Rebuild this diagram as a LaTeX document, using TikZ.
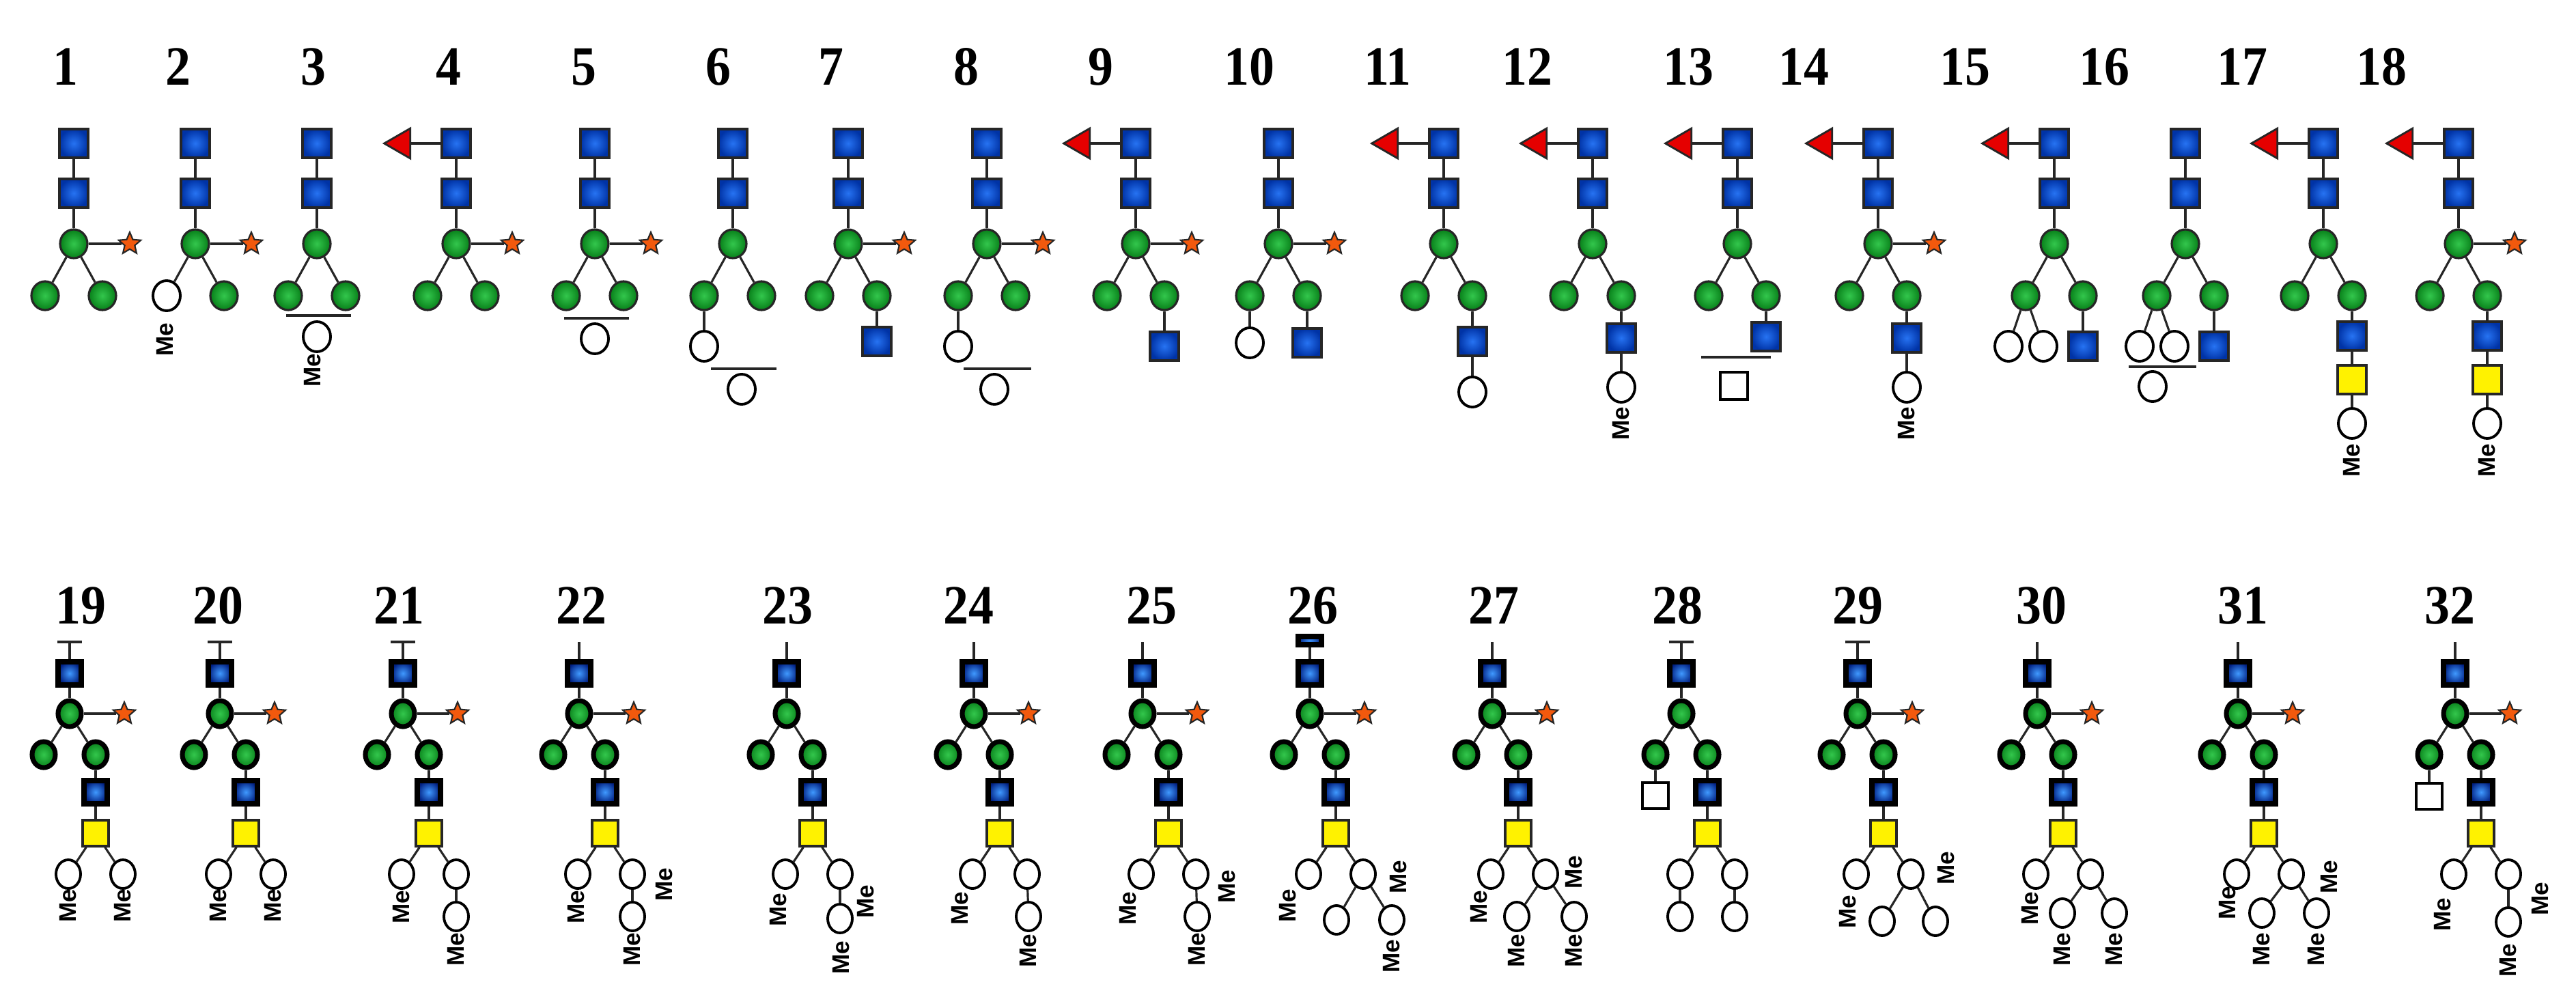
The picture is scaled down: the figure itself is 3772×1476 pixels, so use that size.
\documentclass[tikz,border=0pt]{standalone}
\usepackage{fontspec}
\usetikzlibrary{shapes.geometric}
\setmainfont{Liberation Serif}
\newfontfamily\mefont{Liberation Sans}
\definecolor{bin}{rgb}{0.15,0.45,0.95}
\definecolor{bout}{rgb}{0.0,0.2,0.65}
\definecolor{binB}{rgb}{0.25,0.6,1}
\definecolor{boutB}{rgb}{0.0,0.12,0.5}
\definecolor{gin}{rgb}{0.2,0.78,0.3}
\definecolor{gout}{rgb}{0.03,0.5,0.1}
\definecolor{fucred}{rgb}{0.9,0.0,0.0}
\definecolor{starorange}{rgb}{0.95,0.35,0.05}
\tikzset{
 ln/.style={line width=0.9pt, black!85},
 bsq/.style={rectangle, draw=black!85, line width=0.9pt, minimum size=0.42cm, inner sep=0pt, inner color=bin, outer color=bout},
 gc/.style={ellipse, draw=black!85, line width=0.9pt, minimum width=0.40cm, minimum height=0.42cm, inner sep=0pt, inner color=gin, outer color=gout},
 wc/.style={ellipse, draw=black, line width=1.1pt, fill=white, minimum width=0.40cm, minimum height=0.44cm, inner sep=0pt},
 wsq/.style={rectangle, draw=black, line width=1.1pt, fill=white, minimum size=0.40cm, inner sep=0pt},
 ysq/.style={rectangle, draw=black!85, line width=0.9pt, fill=yellow, minimum size=0.42cm, inner sep=0pt},
 bsqB/.style={rectangle, draw=black, line width=2.2pt, minimum size=0.34cm, inner sep=0pt, inner color=binB, outer color=boutB},
 gcB/.style={ellipse, draw=black, line width=2pt, minimum width=0.34cm, minimum height=0.38cm, inner sep=0pt, inner color=gin, outer color=gout},
 wcB/.style={ellipse, draw=black, line width=1.1pt, fill=white, minimum width=0.36cm, minimum height=0.42cm, inner sep=0pt},
 wsqB/.style={rectangle, draw=black, line width=1.1pt, fill=white, minimum size=0.38cm, inner sep=0pt},
 ysqB/.style={rectangle, draw=black!85, line width=0.9pt, fill=yellow, minimum size=0.38cm, inner sep=0pt},
 fucn/.style={isosceles triangle, shape border rotate=180, draw=black!85, line width=0.8pt, fill=fucred, minimum height=0.38cm, minimum width=0.34cm, isosceles triangle apex angle=60, inner sep=0pt},
 starn/.style={star, star points=5, star point ratio=2.2, draw=black!85, line width=0.6pt, fill=starorange, minimum size=0.34cm, inner sep=0pt},
 me/.style={font=\mefont\bfseries\fontsize{10}{10}\selectfont, rotate=90, inner sep=0pt},
 num/.style={font=\bfseries\fontsize{21}{21}\selectfont, inner sep=0pt, yscale=1.1},
}
\newcommand\E[2]{\draw[ln] (#1) -- (#2);}
% top base: id, x, style of left branch
\newcommand\TopBase[3]{%
 \node[bsq] (#1s1) at (#2,210) {};
 \node[bsq] (#1s2) at (#2,283) {};
 \node[gc] (#1c) at (#2,357) {};
 \node[#3] (#1l) at ({#2-42},433) {};
 \node[gc] (#1r) at ({#2+42},433) {};
 \E{#1s1}{#1s2}\E{#1s2}{#1c}\E{#1c}{#1l}\E{#1c}{#1r}}
\newcommand\TStar[2]{\node[starn] (#1st) at ({#2+82},357) {};\E{#1c}{#1st}}
\newcommand\TFuc[2]{\node[fucn] (#1f) at ({#2-80},210) {};\E{#1s1}{#1f}}
\newcommand\TBar[4]{\coordinate (#1a) at (#2,#4);\coordinate (#1b) at (#3,#4);\draw[ln,line width=1.1pt] (#1a) -- (#1b);}
% bottom base: id, x
\newcommand\BotBase[2]{%
 \coordinate (#1top) at (#2,940);
 \node[bsqB] (#1s) at (#2,986) {};
 \node[gcB] (#1c) at (#2,1045) {};
 \node[gcB] (#1l) at ({#2-38},1105) {};
 \node[gcB] (#1r) at ({#2+38},1105) {};
 \node[bsqB] (#1b) at ({#2+38},1160) {};
 \node[ysqB] (#1y) at ({#2+38},1220) {};
 \node[wcB] (#1wl) at ({#2-2},1280) {};
 \node[wcB] (#1wr) at ({#2+78},1280) {};
 \E{#1top}{#1s}\E{#1s}{#1c}\E{#1c}{#1l}\E{#1c}{#1r}\E{#1r}{#1b}\E{#1b}{#1y}\E{#1y}{#1wl}\E{#1y}{#1wr}}
\newcommand\BStar[2]{\node[starn] (#1st) at ({#2+80},1045) {};\E{#1c}{#1st}}
\newcommand\BTick[2]{\coordinate (#1ta) at ({#2-18},940);\coordinate (#1tb) at ({#2+18},940);\draw[ln] (#1ta) -- (#1tb);}
\begin{document}
\begin{tikzpicture}[x=0.01cm,y=-0.01cm]
\useasboundingbox (0,0) rectangle (3772,1476);
\fill[white] (0,0) rectangle (3772,1476);
% ---------- numbers ----------
\foreach \n/\x in {1/96,2/261,3/459,4/657,5/855,6/1052,7/1217,8/1415,9/1612,10/1829,11/2032,12/2236,13/2472,14/2641,15/2877,16/3081,17/3283,18/3487}
  \node[num] (num\n) at (\x,98) {\n};
\foreach \n/\x in {19/118,20/319,21/584,22/851,23/1153,24/1418,25/1686,26/1922,27/2187,28/2456,29/2720,30/2989,31/3284,32/3587}
  \node[num] (num\n) at (\x,887) {\n};
% ---------- top row ----------
% 1
\TopBase{a}{108}{gc}\TStar{a}{108}
% 2
\TopBase{b}{286}{wc}\TStar{b}{286}
\node[me] (bme) at (242,497) {Me};
% 3
\TopBase{c}{464}{gc}
\TBar{cbar}{419}{514}{462}
\node[wc] (cx) at (464,493) {};
\node[me] (cme) at (458,542) {Me};
% 4
\TopBase{d}{668}{gc}\TStar{d}{668}\TFuc{d}{668}
% 5
\TopBase{e}{871}{gc}\TStar{e}{871}
\TBar{ebar}{826}{921}{466}
\node[wc] (ex) at (871,496) {};
% 6
\TopBase{f}{1073}{gc}
\node[wc] (fx) at (1031,507) {};\E{fl}{fx}
\TBar{fbar}{1041}{1137}{540}
\node[wc] (fy) at (1086,570) {};
% 7
\TopBase{g}{1242}{gc}\TStar{g}{1242}
\node[bsq] (gx) at (1284,500) {};\E{gr}{gx}
% 8
\TopBase{h}{1445}{gc}\TStar{h}{1445}
\node[wc] (hx) at (1403,507) {};\E{hl}{hx}
\TBar{hbar}{1411}{1510}{540}
\node[wc] (hy) at (1456,570) {};
% 9
\TopBase{i}{1663}{gc}\TStar{i}{1663}\TFuc{i}{1663}
\node[bsq] (ix) at (1705,507) {};\E{ir}{ix}
% 10
\TopBase{j}{1872}{gc}\TStar{j}{1872}
\node[wc] (jx) at (1830,502) {};\E{jl}{jx}
\node[bsq] (jy) at (1914,502) {};\E{jr}{jy}
% 11
\TopBase{k}{2114}{gc}\TFuc{k}{2114}
\node[bsq] (kx) at (2156,500) {};\E{kr}{kx}
\node[wc] (ky) at (2156,574) {};\E{kx}{ky}
% 12
\TopBase{l}{2332}{gc}\TFuc{l}{2332}
\node[bsq] (lx) at (2374,495) {};\E{lr}{lx}
\node[wc] (ly) at (2374,567) {};\E{lx}{ly}
\node[me] (lme) at (2374,620) {Me};
% 13
\TopBase{m}{2544}{gc}\TFuc{m}{2544}
\node[bsq] (mx) at (2586,493) {};\E{mr}{mx}
\TBar{mbar}{2491}{2593}{523}
\node[wsq] (my) at (2539,565) {};
% 14
\TopBase{n}{2750}{gc}\TStar{n}{2750}\TFuc{n}{2750}
\node[bsq] (nx) at (2792,495) {};\E{nr}{nx}
\node[wc] (ny) at (2792,567) {};\E{nx}{ny}
\node[me] (nme) at (2792,620) {Me};
% 15
\TopBase{o}{3008}{gc}\TFuc{o}{3008}
\node[wc] (ox) at (2941,507) {};\E{ol}{ox}
\node[wc] (oy) at (2992,507) {};\E{ol}{oy}
\node[bsq] (oz) at (3050,507) {};\E{or}{oz}
% 16
\TopBase{p}{3200}{gc}
\node[wc] (px) at (3133,507) {};\E{pl}{px}
\node[wc] (py) at (3184,507) {};\E{pl}{py}
\node[bsq] (pz) at (3242,507) {};\E{pr}{pz}
\TBar{pbar}{3117}{3216}{537}
\node[wc] (pw) at (3152,566) {};
% 17
\TopBase{q}{3402}{gc}\TFuc{q}{3402}
\node[bsq] (qx) at (3444,492) {};\E{qr}{qx}
\node[ysq] (qy) at (3444,556) {};\E{qx}{qy}
\node[wc] (qz) at (3444,620) {};\E{qy}{qz}
\node[me] (qme) at (3444,674) {Me};
% 18
\TopBase{r}{3600}{gc}\TStar{r}{3600}\TFuc{r}{3600}
\node[bsq] (rx) at (3642,492) {};\E{rr}{rx}
\node[ysq] (ry) at (3642,556) {};\E{rx}{ry}
\node[wc] (rz) at (3642,620) {};\E{ry}{rz}
\node[me] (rme) at (3642,674) {Me};
% ---------- bottom row ----------
% 19
\BotBase{A}{102}\BStar{A}{102}\BTick{A}{102}
\node[me] (Am1) at (100,1326) {Me};
\node[me] (Am2) at (180,1326) {Me};
% 20
\BotBase{B}{322}\BStar{B}{322}\BTick{B}{322}
\node[me] (Bm1) at (320,1326) {Me};
\node[me] (Bm2) at (400,1326) {Me};
% 21
\BotBase{C}{590}\BStar{C}{590}\BTick{C}{590}
\node[wcB] (Cg) at (668,1342) {};\E{Cwr}{Cg}
\node[me] (Cm1) at (588,1328) {Me};
\node[me] (Cm2) at (668,1390) {Me};
% 22
\BotBase{D}{848}\BStar{D}{848}
\node[wcB] (Dg) at (926,1342) {};\E{Dwr}{Dg}
\node[me] (Dm1) at (844,1328) {Me};
\node[me] (Dm2) at (926,1390) {Me};
\node[me] (Dm3) at (973,1295) {Me};
% 23
\BotBase{F}{1152}
\node[wcB] (Fg) at (1230,1345) {};\E{Fwr}{Fg}
\node[me] (Fm1) at (1140,1332) {Me};
\node[me] (Fm2) at (1232,1402) {Me};
\node[me] (Fm3) at (1268,1320) {Me};
% 24
\BotBase{G}{1426}\BStar{G}{1426}
\node[wcB] (Gg) at (1506,1342) {};\E{Gwr}{Gg}
\node[me] (Gm1) at (1406,1330) {Me};
\node[me] (Gm2) at (1506,1392) {Me};
% 25
\BotBase{H}{1673}\BStar{H}{1673}
\node[wcB] (Hg) at (1753,1342) {};\E{Hwr}{Hg}
\node[me] (Hm1) at (1652,1330) {Me};
\node[me] (Hm2) at (1753,1390) {Me};
\node[me] (Hm3) at (1797,1298) {Me};
% 26
\BotBase{I}{1918}\BStar{I}{1918}
\node[bsqB,minimum height=0.12cm] (Itopbox) at (1918,938) {};
\node[wcB] (Ig1) at (1957,1347) {};\E{Iwr}{Ig1}
\node[wcB] (Ig2) at (2038,1347) {};\E{Iwr}{Ig2}
\node[me] (Im1) at (1886,1326) {Me};
\node[me] (Im2) at (2048,1284) {Me};
\node[me] (Im3) at (2038,1400) {Me};
% 27
\BotBase{J}{2185}\BStar{J}{2185}
\node[wcB] (Jg1) at (2221,1342) {};\E{Jwr}{Jg1}
\node[wcB] (Jg2) at (2305,1342) {};\E{Jwr}{Jg2}
\node[me] (Jm1) at (2166,1328) {Me};
\node[me] (Jm2) at (2305,1277) {Me};
\node[me] (Jm3) at (2221,1392) {Me};
\node[me] (Jm4) at (2305,1392) {Me};
% 28
\BotBase{K}{2462}\BTick{K}{2462}
\node[wsqB] (Kq) at (2424,1165) {};\E{Kl}{Kq}
\node[wcB] (Kg1) at (2460,1342) {};\E{Kwl}{Kg1}
\node[wcB] (Kg2) at (2540,1342) {};\E{Kwr}{Kg2}
% 29
\BotBase{L}{2720}\BStar{L}{2720}\BTick{L}{2720}
\node[wcB] (Lg1) at (2756,1349) {};\E{Lwr}{Lg1}
\node[wcB] (Lg2) at (2834,1349) {};\E{Lwr}{Lg2}
\node[me] (Lm1) at (2706,1335) {Me};
\node[me] (Lm2) at (2850,1271) {Me};
% 30
\BotBase{M}{2983}\BStar{M}{2983}
\node[wcB] (Mg1) at (3020,1337) {};\E{Mwr}{Mg1}
\node[wcB] (Mg2) at (3096,1337) {};\E{Mwr}{Mg2}
\node[me] (Mm1) at (2973,1330) {Me};
\node[me] (Mm2) at (3020,1390) {Me};
\node[me] (Mm3) at (3096,1390) {Me};
% 31
\BotBase{N}{3277}\BStar{N}{3277}
\node[wcB] (Ng1) at (3312,1337) {};\E{Nwr}{Ng1}
\node[wcB] (Ng2) at (3392,1337) {};\E{Nwr}{Ng2}
\node[me] (Nm1) at (3262,1322) {Me};
\node[me] (Nm2) at (3411,1284) {Me};
\node[me] (Nm3) at (3312,1390) {Me};
\node[me] (Nm4) at (3392,1390) {Me};
% 32
\BotBase{P}{3595}\BStar{P}{3595}
\node[wsqB] (Pq) at (3557,1166) {};\E{Pl}{Pq}
\node[wcB] (Pg) at (3673,1350) {};\E{Pwr}{Pg}
\node[me] (Pm1) at (3577,1339) {Me};
\node[me] (Pm2) at (3720,1316) {Me};
\node[me] (Pm3) at (3673,1406) {Me};
\end{tikzpicture}
\end{document}
